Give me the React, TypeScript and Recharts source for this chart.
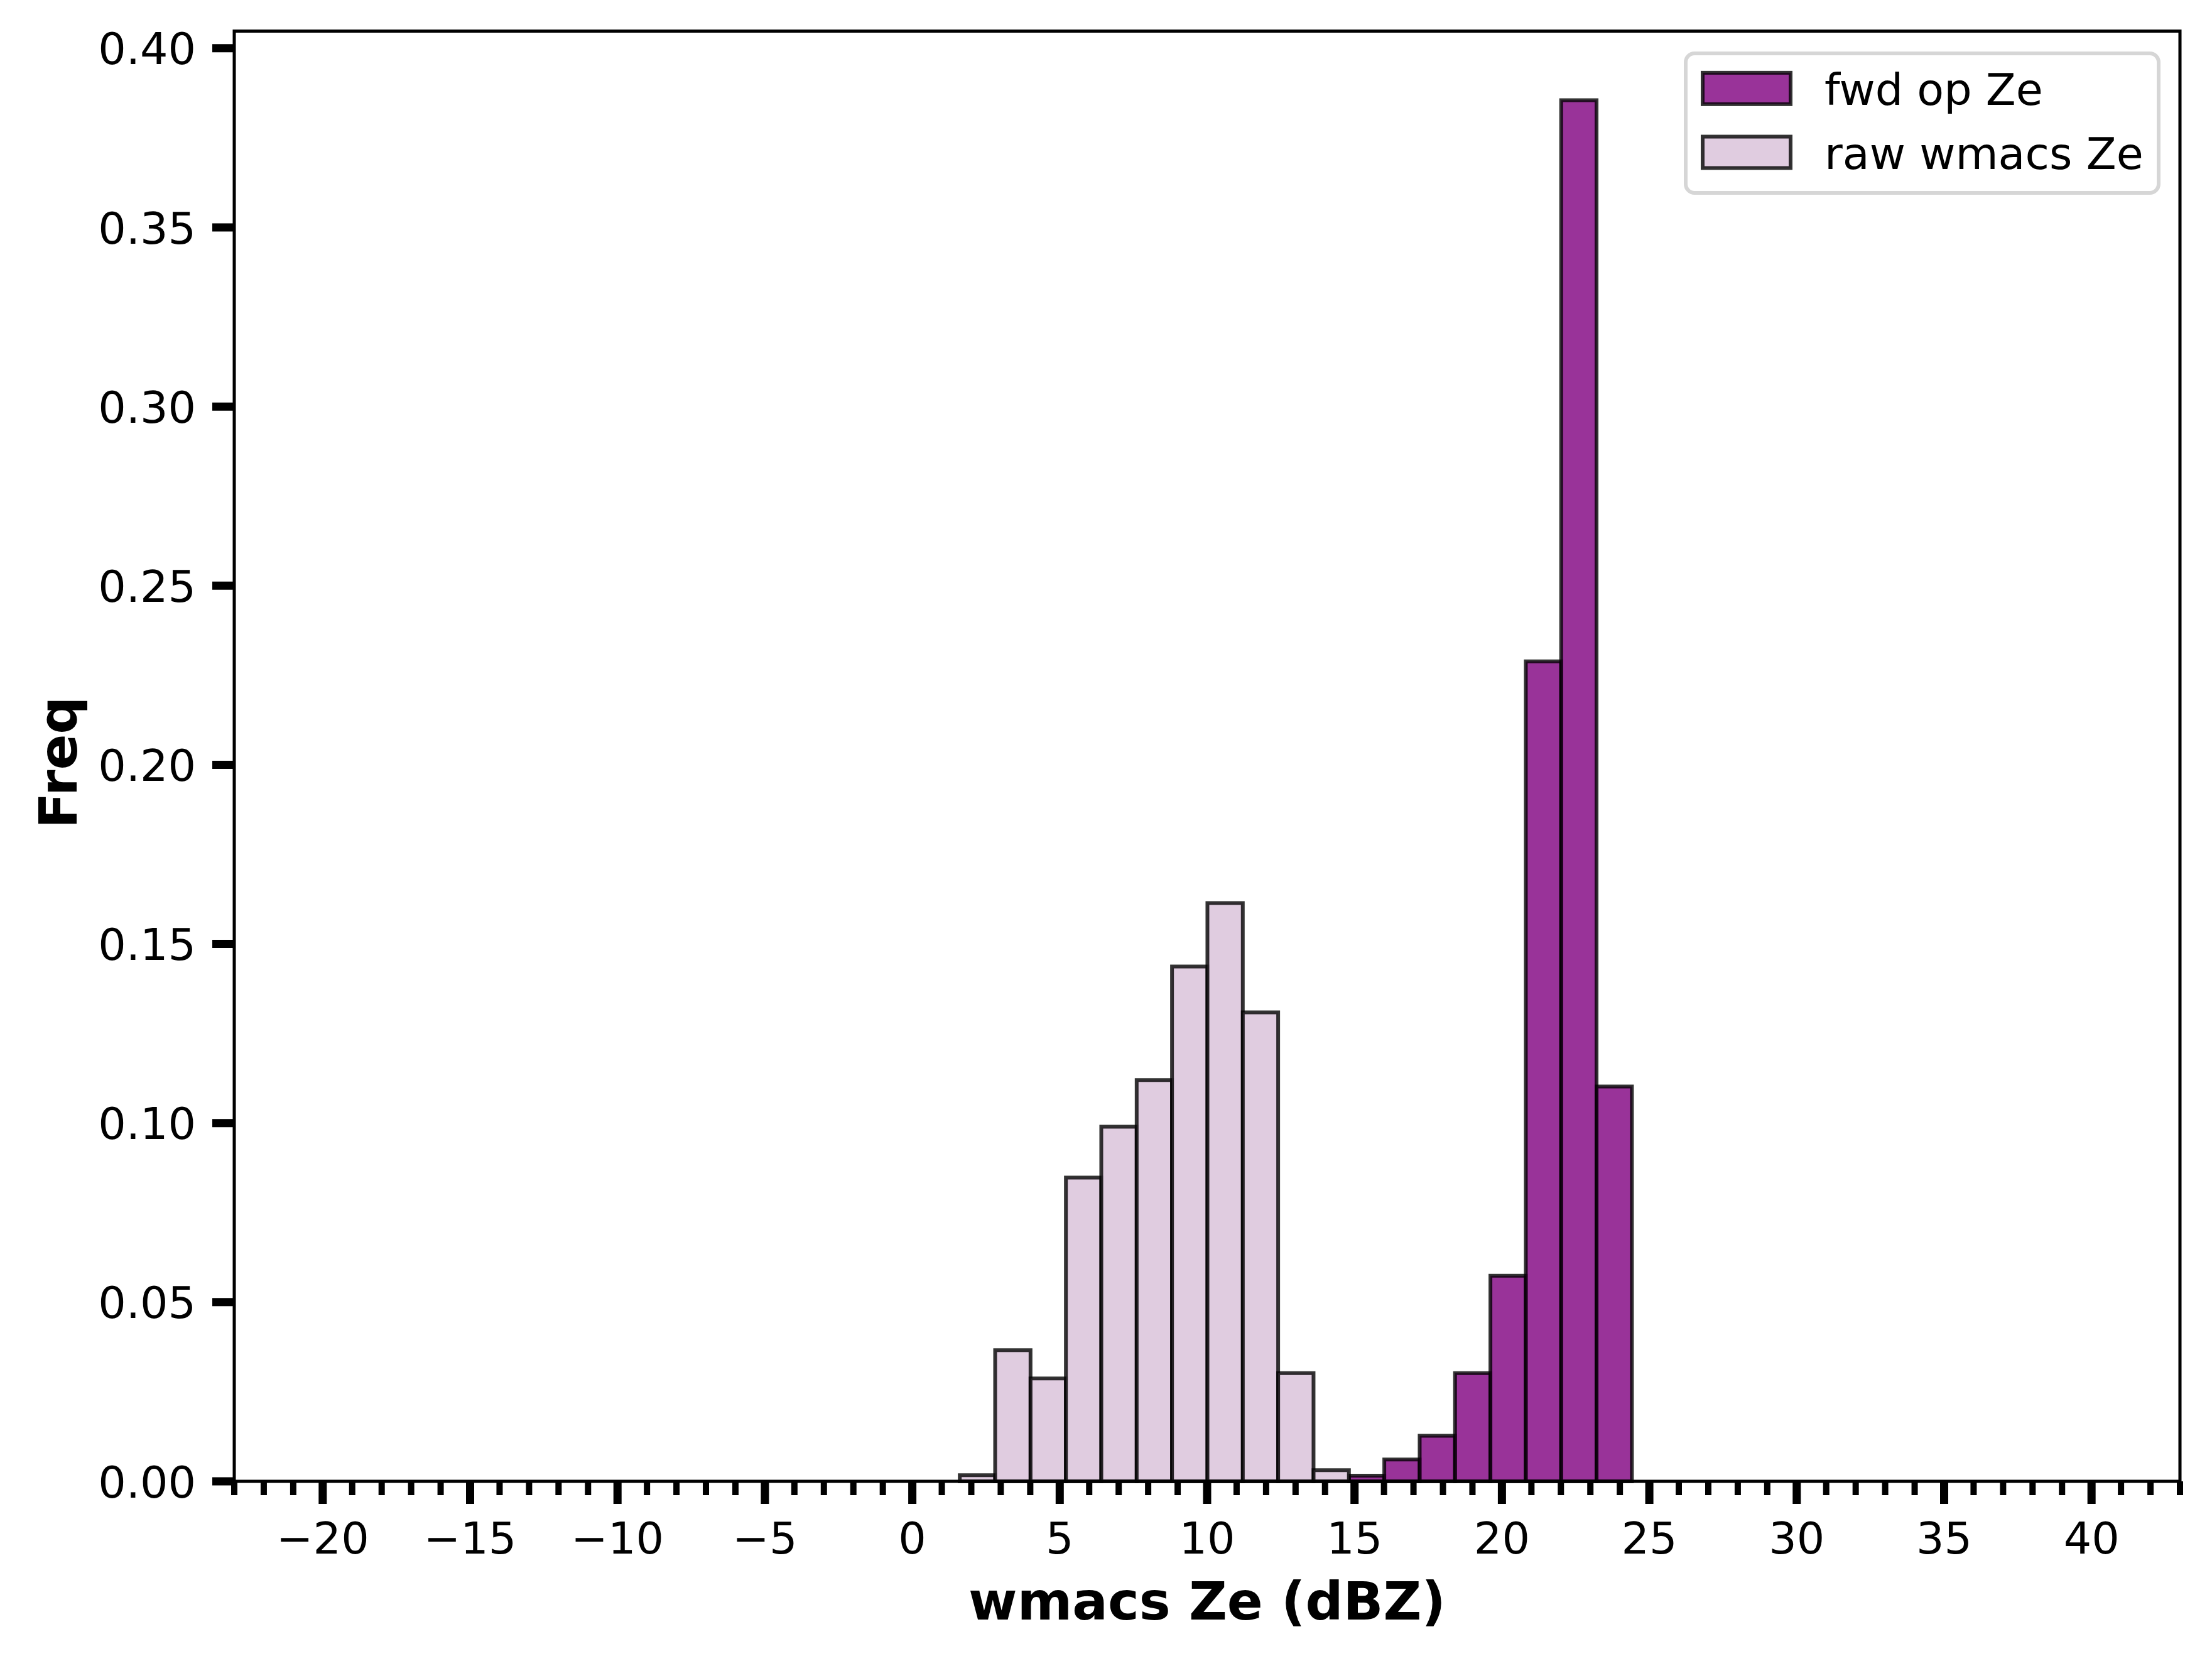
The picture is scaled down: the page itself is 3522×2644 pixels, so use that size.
import React from 'react';
import { ComposedChart, XAxis, YAxis, ReferenceArea } from 'recharts';

// Histogram bin edges (dBZ), shared by both series
const binEdges = [1.61, 2.81, 4.01, 5.21, 6.41, 7.61, 8.81, 10.01, 11.21, 12.41, 13.61, 14.81, 16.01, 17.21, 18.41, 19.61, 20.81, 22.01, 23.21, 24.41];

// Density values per bin
const fwdOpZe = [0, 0, 0, 0, 0, 0, 0, 0, 0, 0, 0, 0.0016, 0.0061, 0.0127, 0.0302, 0.0574, 0.2289, 0.3855, 0.1102];
const rawWmacsZe = [0.0017, 0.0366, 0.0287, 0.0848, 0.099, 0.112, 0.1437, 0.1614, 0.1309, 0.0302, 0.0031, 0, 0, 0, 0, 0, 0, 0, 0];

const seriesNames = ['fwd op Ze', 'raw wmacs Ze'];
const seriesColors = ['#800080', '#d8bfd8'];

// Axis limits and ticks
const xDomain = [-23, 43];
const yDomain = [0, 0.4048];
const xMajorTicks = [-20, -15, -10, -5, 0, 5, 10, 15, 20, 25, 30, 35, 40];
const yTicks = [0, 0.05, 0.1, 0.15, 0.2, 0.25, 0.3, 0.35, 0.4];
const xAllTicks = Array.from({ length: xDomain[1] - xDomain[0] + 1 }, (_, i) => xDomain[0] + i);

const xLabel = 'wmacs Ze (dBZ)';
const yLabel = 'Freq';

const FONT = '"DejaVu Sans", "Liberation Sans", sans-serif';
const TICK_FS = 70;

const rows = binEdges.slice(0, -1).map((e, i) => ({
  x0: e,
  x1: binEdges[i + 1],
  center: (e + binEdges[i + 1]) / 2,
  fwd: fwdOpZe[i],
  raw: rawWmacsZe[i],
}));

const fmtX = (v: number) => (v < 0 ? '\u2212' + Math.abs(v) : String(v));

const XTick = (props: any) => {
  const { x, y, payload } = props;
  const v = payload.value;
  const major = xMajorTicks.includes(v);
  return (
    <g>
      <line x1={x} x2={x} y1={y} y2={y + (major ? 36 : 22)} stroke="#000" strokeWidth={major ? 13 : 10} />
      {major && (
        <text x={x} y={y + 115} textAnchor="middle" fontSize={TICK_FS} fontFamily={FONT} fill="#000">
          {fmtX(v)}
        </text>
      )}
    </g>
  );
};

const YTick = (props: any) => {
  const { x, y, payload } = props;
  return (
    <g>
      <line x1={x - 35} x2={x} y1={y} y2={y} stroke="#000" strokeWidth={13} />
      <text x={x - 61} y={y + 25.5} textAnchor="end" fontSize={TICK_FS} fontFamily={FONT} fill="#000">
        {Number(payload.value).toFixed(2)}
      </text>
    </g>
  );
};

const XTitle = (props: any) => {
  const vb = props.viewBox || { x: 373, y: 2358, width: 3098, height: 286 };
  return (
    <text x={vb.x + vb.width / 2} y={vb.y + 220} textAnchor="middle" fontSize={84} fontWeight="bold" fontFamily={FONT} fill="#000">
      {xLabel}
    </text>
  );
};

const YTitle = (props: any) => {
  const vb = props.viewBox || { x: 0, y: 49.5, width: 373, height: 2308.5 };
  const cx = vb.x + 122;
  const cy = vb.y + vb.height / 2 + 10;
  return (
    <text x={cx} y={cy} transform={`rotate(-90, ${cx}, ${cy})`} textAnchor="middle" fontSize={84} fontWeight="bold" fontFamily={FONT} fill="#000">
      {yLabel}
    </text>
  );
};

const LegendBox = () => {
  const rowsY = [140.85, 242.5];
  return (
    <svg width={3522} height={2644} style={{ position: 'absolute', left: 0, top: 0, pointerEvents: 'none' }}>
      <rect x={2684} y={85} width={753} height={222} rx={14} ry={14} fill="#fff" fillOpacity={0.8} stroke="#d6d6d6" strokeWidth={6} />
      {seriesNames.map((name, i) => (
        <g key={name}>
          <rect x={2711} y={rowsY[i] - 25} width={140} height={50} fill={seriesColors[i]} fillOpacity={0.8} stroke="#000" strokeOpacity={0.8} strokeWidth={6} />
          <text x={2905} y={rowsY[i] + 26} fontSize={TICK_FS} fontFamily={FONT} fill="#000">
            {name}
          </text>
        </g>
      ))}
    </svg>
  );
};

export default function App() {
  return (
    <div style={{ position: 'absolute', left: 0, top: 0, width: 3522, height: 2644, background: '#fff', fontFamily: FONT }}>
      <ComposedChart width={3522} height={2644} data={rows} margin={{ top: 49.5, right: 51, bottom: 0, left: 0 }}>
        <XAxis
          type="number"
          dataKey="center"
          domain={xDomain}
          allowDataOverflow
          ticks={xAllTicks}
          interval={0}
          tickSize={0}
          tickMargin={0}
          axisLine={false}
          tickLine={false}
          tick={(p: any) => <XTick {...p} />}
          height={286}
          label={(p: any) => <XTitle {...p} />}
        />
        <YAxis
          type="number"
          domain={yDomain}
          allowDataOverflow
          ticks={yTicks}
          interval={0}
          tickSize={0}
          tickMargin={0}
          axisLine={false}
          tickLine={false}
          tick={(p: any) => <YTick {...p} />}
          width={373}
          label={(p: any) => <YTitle {...p} />}
        />
        {rows.filter((r) => r.fwd > 0).map((r) => (
          <ReferenceArea
            key={'fwd' + r.x0}
            x1={r.x0}
            x2={r.x1}
            y1={0}
            y2={r.fwd}
            fill={seriesColors[0]}
            fillOpacity={0.8}
            stroke="#000"
            strokeOpacity={0.8}
            strokeWidth={6}
            ifOverflow="visible"
          />
        ))}
        {rows.filter((r) => r.raw > 0).map((r) => (
          <ReferenceArea
            key={'raw' + r.x0}
            x1={r.x0}
            x2={r.x1}
            y1={0}
            y2={r.raw}
            fill={seriesColors[1]}
            fillOpacity={0.8}
            stroke="#000"
            strokeOpacity={0.8}
            strokeWidth={6}
            ifOverflow="visible"
          />
        ))}
        <ReferenceArea
          x1={xDomain[0]}
          x2={xDomain[1]}
          y1={yDomain[0]}
          y2={yDomain[1]}
          fill="none"
          fillOpacity={0}
          stroke="#000"
          strokeWidth={5}
          ifOverflow="visible"
        />
      </ComposedChart>
      <LegendBox />
    </div>
  );
}
